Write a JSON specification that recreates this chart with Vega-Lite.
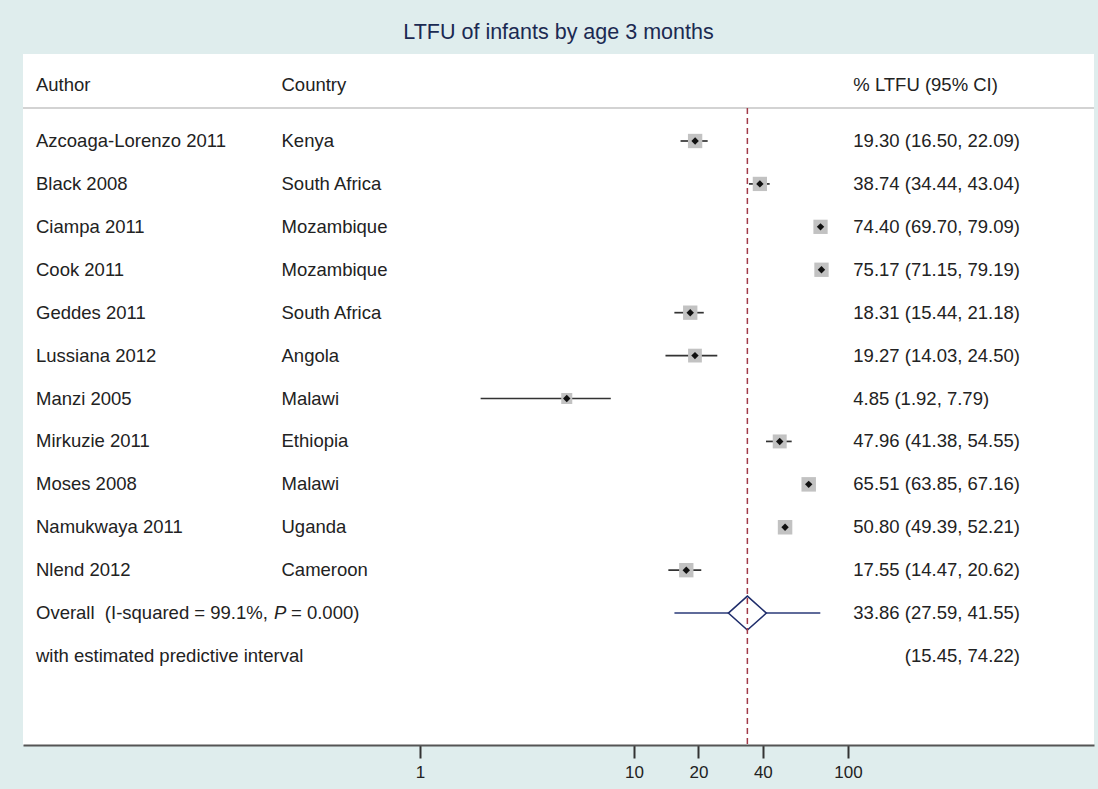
{
  "$schema": "https://vega.github.io/schema/vega-lite/v6.json",
  "width": 1071,
  "height": 691,
  "autosize": {"type": "none"},
  "padding": {"left": 23, "top": 54, "right": 4, "bottom": 44},
  "background": "#dfeded",
  "view": {"fill": "white", "stroke": null},
  "title": {
    "text": "LTFU of infants by age 3 months",
    "anchor": "middle",
    "frame": "group",
    "font": "Liberation Sans",
    "fontSize": 21.5,
    "fontWeight": "normal",
    "color": "#1b2a52",
    "offset": 11
  },
  "config": {
    "text": {"font": "Liberation Sans", "fontSize": 18.5, "color": "#222222", "baseline": "middle", "align": "left"}
  },
  "datasets": {
    "studies": [
      {"author": "Azcoaga-Lorenzo 2011", "country": "Kenya", "est": 19.30, "lo": 16.50, "hi": 22.09, "weight": 9.3, "label": "19.30 (16.50, 22.09)", "row": 1},
      {"author": "Black 2008", "country": "South Africa", "est": 38.74, "lo": 34.44, "hi": 43.04, "weight": 9.2, "label": "38.74 (34.44, 43.04)", "row": 2},
      {"author": "Ciampa 2011", "country": "Mozambique", "est": 74.40, "lo": 69.70, "hi": 79.09, "weight": 9.2, "label": "74.40 (69.70, 79.09)", "row": 3},
      {"author": "Cook 2011", "country": "Mozambique", "est": 75.17, "lo": 71.15, "hi": 79.19, "weight": 9.3, "label": "75.17 (71.15, 79.19)", "row": 4},
      {"author": "Geddes 2011", "country": "South Africa", "est": 18.31, "lo": 15.44, "hi": 21.18, "weight": 9.3, "label": "18.31 (15.44, 21.18)", "row": 5},
      {"author": "Lussiana 2012", "country": "Angola", "est": 19.27, "lo": 14.03, "hi": 24.50, "weight": 8.6, "label": "19.27 (14.03, 24.50)", "row": 6},
      {"author": "Manzi 2005", "country": "Malawi", "est": 4.85, "lo": 1.92, "hi": 7.79, "weight": 5.5, "label": "4.85 (1.92, 7.79)", "row": 7},
      {"author": "Mirkuzie 2011", "country": "Ethiopia", "est": 47.96, "lo": 41.38, "hi": 54.55, "weight": 8.8, "label": "47.96 (41.38, 54.55)", "row": 8},
      {"author": "Moses 2008", "country": "Malawi", "est": 65.51, "lo": 63.85, "hi": 67.16, "weight": 9.5, "label": "65.51 (63.85, 67.16)", "row": 9},
      {"author": "Namukwaya 2011", "country": "Uganda", "est": 50.80, "lo": 49.39, "hi": 52.21, "weight": 9.5, "label": "50.80 (49.39, 52.21)", "row": 10},
      {"author": "Nlend 2012", "country": "Cameroon", "est": 17.55, "lo": 14.47, "hi": 20.62, "weight": 9.3, "label": "17.55 (14.47, 20.62)", "row": 11}
    ],
    "overall": [
      {"part1": "Overall\u00a0\u00a0(I-squared = 99.1%,", "pname": "P", "part3": "= 0.000)", "est": 33.86, "lo": 27.59, "hi": 41.55, "pi_lo": 15.45, "pi_hi": 74.22, "label": "33.86 (27.59, 41.55)", "pi_text": "with estimated predictive interval", "pi_label": "(15.45, 74.22)", "row": 12, "pi_row": 13}
    ],
    "heads": [
      {"author": "Author", "country": "Country", "stat": "% LTFU (95% CI)", "hrow": -0.305, "lrow": 0.231}
    ]
  },
  "layer": [
    {
      "data": {"name": "heads"},
      "mark": {"type": "rule", "color": "#c4c4c4", "strokeWidth": 1.5},
      "encoding": {"y": {"field": "lrow", "type": "quantitative", "scale": {"domain": [-1.027, 15.073], "reverse": true, "nice": false, "zero": false}, "axis": null}}
    },
    {
      "data": {"name": "heads"},
      "mark": {"type": "text"},
      "encoding": {"x": {"datum": 0.016055}, "y": {"field": "hrow", "type": "quantitative"}, "text": {"field": "author"}}
    },
    {
      "data": {"name": "heads"},
      "mark": {"type": "text"},
      "encoding": {"x": {"datum": 0.22535}, "y": {"field": "hrow", "type": "quantitative"}, "text": {"field": "country"}}
    },
    {
      "data": {"name": "heads"},
      "mark": {"type": "text"},
      "encoding": {"x": {"datum": 105.87}, "y": {"field": "hrow", "type": "quantitative"}, "text": {"field": "stat"}}
    },
    {
      "data": {"name": "studies"},
      "mark": {"type": "rule", "color": "#333333", "strokeWidth": 1.7},
      "encoding": {
        "x": {"field": "lo", "type": "quantitative", "scale": {"type": "log", "domain": [0.013961, 1410.7], "nice": false}, "axis": {"values": [1, 10, 20, 40, 100], "format": "d", "title": null, "grid": false, "domainColor": "#555555", "domainWidth": 2, "tickColor": "#333333", "tickWidth": 2, "tickSize": 13, "labelFont": "Liberation Sans", "labelFontSize": 17, "labelColor": "#222222", "labelPadding": 6}},
        "x2": {"field": "hi"},
        "y": {"field": "row", "type": "quantitative"}
      }
    },
    {
      "data": {"name": "studies"},
      "mark": {"type": "square", "color": "#c2c2c2", "opacity": 1},
      "encoding": {
        "x": {"field": "est", "type": "quantitative"},
        "y": {"field": "row", "type": "quantitative"},
        "size": {"field": "weight", "type": "quantitative", "scale": {"domain": [0, 9.5], "range": [0, 210], "zero": true}, "legend": null}
      }
    },
    {
      "data": {"name": "studies"},
      "mark": {"type": "point", "shape": "diamond", "filled": true, "color": "#111111", "size": 55, "opacity": 1},
      "encoding": {"x": {"field": "est", "type": "quantitative"}, "y": {"field": "row", "type": "quantitative"}}
    },
    {
      "data": {"name": "studies"},
      "mark": {"type": "text"},
      "encoding": {"x": {"datum": 0.016055}, "y": {"field": "row", "type": "quantitative"}, "text": {"field": "author"}}
    },
    {
      "data": {"name": "studies"},
      "mark": {"type": "text"},
      "encoding": {"x": {"datum": 0.22535}, "y": {"field": "row", "type": "quantitative"}, "text": {"field": "country"}}
    },
    {
      "data": {"name": "studies"},
      "mark": {"type": "text"},
      "encoding": {"x": {"datum": 105.87}, "y": {"field": "row", "type": "quantitative"}, "text": {"field": "label"}}
    },
    {
      "data": {"name": "overall"},
      "mark": {"type": "rule", "color": "#2a3a78", "strokeWidth": 1.5},
      "encoding": {"x": {"field": "pi_lo", "type": "quantitative"}, "x2": {"field": "pi_hi"}, "y": {"field": "row", "type": "quantitative"}}
    },
    {
      "data": {"name": "overall"},
      "mark": {"type": "point", "shape": "M-1,0L0,-0.895L1,0L0,0.895Z", "filled": false, "fill": "white", "fillOpacity": 1, "stroke": "#1f2d6b", "strokeWidth": 1.5, "size": 1444, "opacity": 1},
      "encoding": {"x": {"field": "est", "type": "quantitative"}, "y": {"field": "row", "type": "quantitative"}}
    },
    {
      "data": {"name": "overall"},
      "mark": {"type": "rule", "color": "#a23a48", "strokeWidth": 1.5, "strokeDash": [6, 4]},
      "encoding": {"x": {"field": "est", "type": "quantitative"}, "y": {"datum": 0.231}, "y2": {"datum": 15.073}}
    },
    {
      "data": {"name": "overall"},
      "mark": {"type": "text"},
      "encoding": {"x": {"datum": 0.016055}, "y": {"field": "row", "type": "quantitative"}, "text": {"field": "part1"}}
    },
    {
      "data": {"name": "overall"},
      "mark": {"type": "text", "fontStyle": "italic"},
      "encoding": {"x": {"datum": 0.20785}, "y": {"field": "row", "type": "quantitative"}, "text": {"field": "pname"}}
    },
    {
      "data": {"name": "overall"},
      "mark": {"type": "text"},
      "encoding": {"x": {"datum": 0.24957}, "y": {"field": "row", "type": "quantitative"}, "text": {"field": "part3"}}
    },
    {
      "data": {"name": "overall"},
      "mark": {"type": "text"},
      "encoding": {"x": {"datum": 105.87}, "y": {"field": "row", "type": "quantitative"}, "text": {"field": "label"}}
    },
    {
      "data": {"name": "overall"},
      "mark": {"type": "text"},
      "encoding": {"x": {"datum": 0.016055}, "y": {"field": "pi_row", "type": "quantitative"}, "text": {"field": "pi_text"}}
    },
    {
      "data": {"name": "overall"},
      "mark": {"type": "text", "align": "right"},
      "encoding": {"x": {"datum": 636.4}, "y": {"field": "pi_row", "type": "quantitative"}, "text": {"field": "pi_label"}}
    }
  ]
}
